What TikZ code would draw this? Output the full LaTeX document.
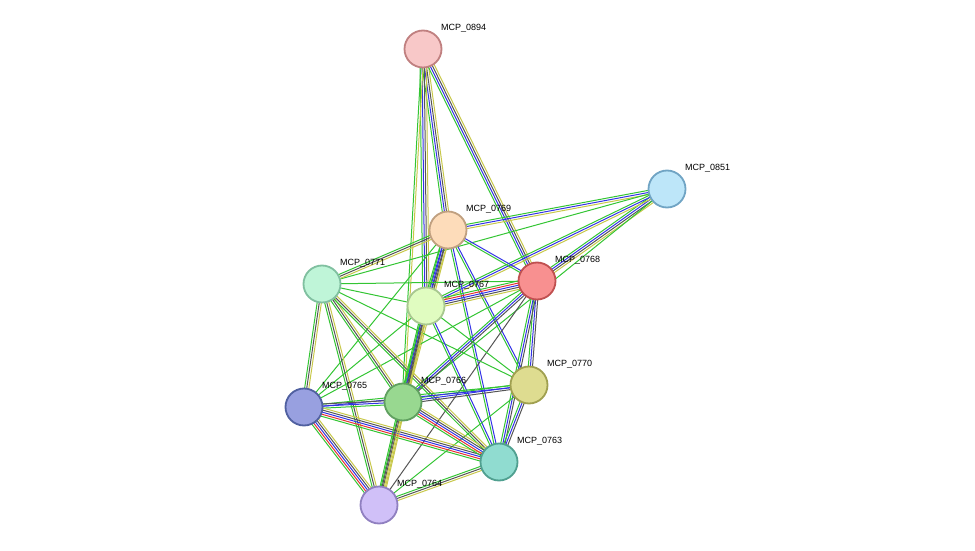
\documentclass[tikz,border=0pt]{standalone}
\usepackage{fontspec}
\setmainfont{Liberation Sans}
\usetikzlibrary{calc}
\definecolor{eg}{HTML}{33C533}
\definecolor{eb}{HTML}{3333E6}
\definecolor{ey}{HTML}{C8C84A}
\definecolor{ek}{HTML}{555555}
\definecolor{er}{HTML}{E63333}
\newcommand\edge[3]{\foreach \c/\o in {#3}{\draw[\c,line width=1pt] ($(#1.center)!\o*2.1pt!90:(#2.center)$) -- ($(#2.center)!\o*2.1pt!-90:(#1.center)$);}}
\tikzset{prot/.style args={#1/#2}{circle,minimum size=37pt,inner sep=0pt,fill=#1,draw=#2,line width=1.8pt},
 lab/.style={anchor=west,font=\fontsize{9}{10}\selectfont,inner sep=0pt}}
\begin{document}
\begin{tikzpicture}[x=1pt,y=-1pt]
\useasboundingbox (0,0) rectangle (975,551);
\coordinate (p0894) at (423,49);
\coordinate (p0851) at (667,189);
\coordinate (p0769) at (448,230);
\coordinate (p0768) at (537,281);
\coordinate (p0771) at (322,284);
\coordinate (p0767) at (426,306);
\coordinate (p0770) at (529,385);
\coordinate (p0765) at (304,407);
\coordinate (p0766) at (403,402);
\coordinate (p0763) at (499,462);
\coordinate (p0764) at (379,505);
\foreach \n in {0894,0851,0769,0768,0771,0767,0770,0765,0766,0763,0764}{\node[inner sep=0pt] (n\n) at (p\n) {};}
\edge{n0894}{n0769}{eg/-1.5,eb/-0.5,ek/0.5,ey/1.5}
\edge{n0894}{n0767}{eg/-1.5,eb/-0.5,ek/0.5,ey/1.5}
\edge{n0894}{n0768}{eg/-1.5,eb/-0.5,ek/0.5,ey/1.5}
\edge{n0894}{n0766}{eg/-0.5,ey/0.5}
\edge{n0851}{n0769}{eg/-1,eb/0,ey/1}
\edge{n0851}{n0768}{eg/-1.5,eb/-0.5,ek/0.5,ey/1.5}
\edge{n0851}{n0767}{eg/-1,eb/0,ey/1}
\edge{n0851}{n0771}{eg/0}
\edge{n0851}{n0766}{eg/0}
\edge{n0769}{n0771}{eg/-1,ek/0,ey/1}
\edge{n0769}{n0767}{eg/-1.5,eb/-0.5,ek/0.5,ey/1.5}
\edge{n0769}{n0768}{eg/-0.5,eb/0.5}
\edge{n0769}{n0766}{eg/-1.5,eb/-0.5,ek/0.5,ey/1.5}
\edge{n0769}{n0770}{eg/-0.5,eb/0.5}
\edge{n0769}{n0763}{eg/-0.5,eb/0.5}
\edge{n0769}{n0765}{eg/0}
\edge{n0768}{n0767}{eg/-2,er/-1,eb/0,ek/1,ey/2}
\edge{n0768}{n0771}{eg/0}
\edge{n0768}{n0770}{eg/-1,eb/0,ek/1}
\edge{n0768}{n0763}{eg/-1,eb/0,ek/1}
\edge{n0768}{n0766}{eg/-1,eb/0,ek/1}
\edge{n0768}{n0765}{eg/0}
\edge{n0768}{n0764}{ek/0}
\edge{n0771}{n0767}{eg/0}
\edge{n0771}{n0765}{eg/-1,ek/0,ey/1}
\edge{n0771}{n0766}{eg/-1,ek/0,ey/1}
\edge{n0771}{n0764}{eg/-1,ek/0,ey/1}
\edge{n0771}{n0763}{eg/-1,ek/0,ey/1}
\edge{n0771}{n0770}{eg/0}
\edge{n0767}{n0766}{eg/-1.5,eb/-0.5,ek/0.5,ey/1.5}
\edge{n0767}{n0764}{eg/-1,ek/0,ey/1}
\edge{n0767}{n0770}{eg/0}
\edge{n0767}{n0763}{eg/-0.5,eb/0.5}
\edge{n0767}{n0765}{eg/0}
\edge{n0770}{n0766}{eg/-1,eb/0,ek/1}
\edge{n0770}{n0765}{eg/-0.5,eb/0.5}
\edge{n0770}{n0763}{eg/-1,eb/0,ek/1}
\edge{n0770}{n0764}{eg/0}
\edge{n0765}{n0766}{eg/-1,eb/0,ek/1}
\edge{n0765}{n0763}{eg/-2,er/-1,eb/0,ek/1,ey/2}
\edge{n0765}{n0764}{eg/-2,er/-1,eb/0,ek/1,ey/2}
\edge{n0766}{n0763}{eg/-2,er/-1,eb/0,ek/1,ey/2}
\edge{n0766}{n0764}{eg/-1.5,ek/-0.5,ey/0.5,ey/1.5}
\edge{n0763}{n0764}{eg/-1,ek/0,ey/1}
\foreach \n/\f/\d in {0894/F8C8C8/C08080,0851/BDE6F9/70A4C4,0769/FDDCBA/C0A080,0768/F89090/C05050,0771/BFF5D8/80C0A0,0767/E0FCC0/A8C890,0770/DEDC90/A0A050,0765/98A0E0/5060A0,0766/98D890/60A060,0763/90DCD0/50A090,0764/D0C0F8/9080C0}{
 \definecolor{cf}{HTML}{\f}\definecolor{cd}{HTML}{\d}
 \node[prot=cf/cd] at (p\n) {};
 \node[lab] at ($(p\n)+(18,-21)$) {MCP\_\n};}
\end{tikzpicture}
\end{document}
